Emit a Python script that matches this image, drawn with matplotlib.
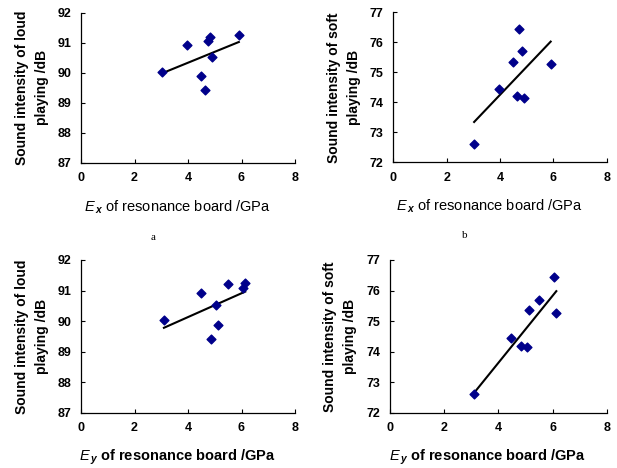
import numpy as np
import matplotlib
matplotlib.use('Agg')
import matplotlib.pyplot as plt

plt.rcParams['font.family'] = ['Liberation Sans', 'DejaVu Sans']
plt.rcParams['mathtext.fontset'] = 'custom'
plt.rcParams['mathtext.rm'] = 'Liberation Sans'
plt.rcParams['mathtext.it'] = 'Liberation Sans:italic'
plt.rcParams['mathtext.bf'] = 'Liberation Sans:italic:bold'

# Dane (8 próbek)
ex = [3.03, 3.96, 4.48, 4.64, 4.73, 4.81, 4.90, 5.90]
ey = [3.10, 4.48, 5.12, 4.85, 6.05, 5.50, 5.05, 6.14]
loud = [90.03, 90.92, 89.88, 89.41, 91.07, 91.20, 90.52, 91.25]
soft = [72.60, 74.44, 75.35, 74.20, 76.43, 75.70, 74.16, 75.27]

loud_ticks = [87, 88, 89, 90, 91, 92]
soft_ticks = [72, 73, 74, 75, 76, 77]
x_ticks = [0, 2, 4, 6, 8]

W, H = 617, 468
fig = plt.figure(figsize=(W / 100, H / 100), dpi=100)


def box(x0, x1, ytop, ybot):
    return [x0 / W, 1 - ybot / H, (x1 - x0) / W, (ybot - ytop) / H]


panels = [
    (box(81, 295, 12.7, 162.7), ex, loud, loud_ticks, 'loud', 'x', 'normal'),
    (box(393.3, 606.7, 12.3, 162.3), ex, soft, soft_ticks, 'soft', 'x', 'normal'),
    (box(81, 295, 260, 412.7), ey, loud, loud_ticks, 'loud', 'y', 'bold'),
    (box(390, 606.7, 260, 412.7), ey, soft, soft_ticks, 'soft', 'y', 'bold'),
]

for pos, x, y, yt, kind, sub, xw in panels:
    ax = fig.add_axes(pos)
    ax.scatter(x, y, marker='D', s=20, color='#00008B', zorder=3)

    # linia trendu (regresja liniowa)
    a, b = np.polyfit(x, y, 1)
    xs = np.array([min(x), max(x)])
    ax.plot(xs, a * xs + b, color='black', linewidth=1.5, zorder=2)

    ax.set_xlim(0, 8)
    ax.set_ylim(yt[0], yt[-1])
    ax.set_xticks(x_ticks)
    ax.set_yticks(yt)
    ax.tick_params(direction='in', length=3, width=0.8, labelsize=9, pad=7)
    for lab in ax.get_xticklabels() + ax.get_yticklabels():
        lab.set_fontweight('bold')
    for s in ['top', 'right']:
        ax.spines[s].set_visible(False)
    for s in ['left', 'bottom']:
        ax.spines[s].set_linewidth(0.9)

    ax.set_ylabel(f'Sound intensity of {kind}\nplaying /dB', fontsize=10,
                  fontweight='bold', linespacing=1.5, va='center')
    ax.yaxis.set_label_coords(-0.23, 0.5)
    ax.set_xlabel(r'$E_{\,\mathbf{' + sub + r'}}$ of resonance board /GPa',
                  fontsize=10.5, fontweight=xw, va='center')
    ax.xaxis.set_label_coords(0.45, -0.295)

fig.text(153 / W, 1 - 237 / H, 'a', fontsize=8, family='Liberation Serif',
         ha='center', va='center')
fig.text(465 / W, 1 - 235 / H, 'b', fontsize=8, family='Liberation Serif',
         ha='center', va='center')

fig.savefig('out.png', dpi=100)
